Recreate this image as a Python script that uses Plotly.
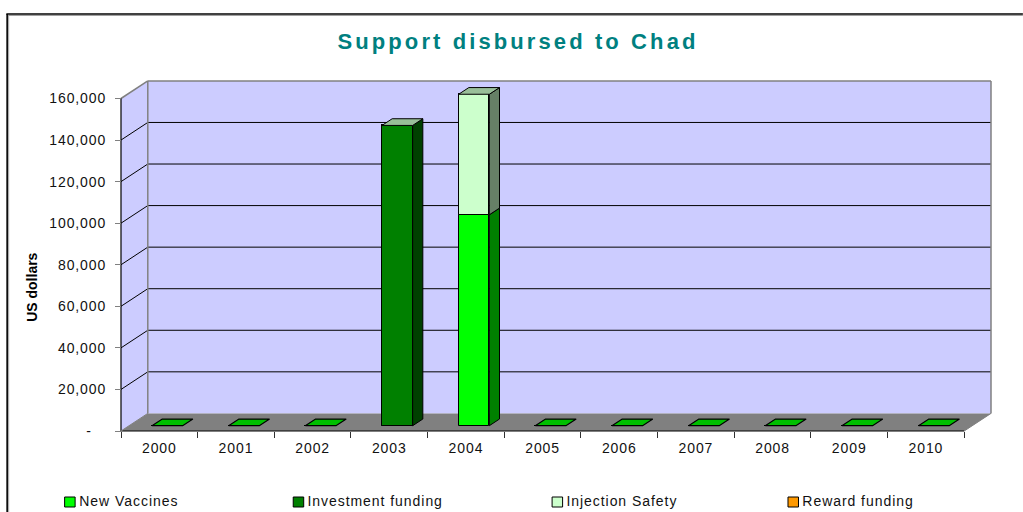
import plotly.graph_objects as go

TITLE = "Support disbursed to Chad"
YEARS = ["2000", "2001", "2002", "2003", "2004", "2005", "2006", "2007", "2008", "2009", "2010"]
NEW_VACCINES = [0, 0, 0, 0, 101500, 0, 0, 0, 0, 0, 0]
INVESTMENT = [0, 0, 0, 144500, 0, 0, 0, 0, 0, 0, 0]
INJECTION = [0, 0, 0, 0, 58000, 0, 0, 0, 0, 0, 0]
REWARD = [0, 0, 0, 0, 0, 0, 0, 0, 0, 0, 0]
Y_TICKS = [0, 20000, 40000, 60000, 80000, 100000, 120000, 140000, 160000]
Y_LABELS = ["-\u00a0\u00a0\u00a0", "20,000", "40,000", "60,000", "80,000", "100,000", "120,000", "140,000", "160,000"]

SERIES = [
    ("New Vaccines", NEW_VACCINES, "#00FF00", "#008000", "#00BF00"),
    ("Investment funding", INVESTMENT, "#008000", "#004000", "#006000"),
    ("Injection Safety", INJECTION, "#CCFFCC", "#668066", "#99BF99"),
    ("Reward funding", REWARD, "#FF9900", "#804D00", "#BF7300"),
]

# pixel geometry of the oblique projection
W, H = 1023, 512
FX0, FX1, FY0 = 120.7, 964.3, 431.0   # front plane
DPX, DPY = 26.8, 17.6                 # depth
PPU_X = (FX1 - FX0) / len(YEARS)
PPU_Y = 332.5 / 160000
PAD = 3
L, R, T, B = FX0 - PAD, FX1 + DPX + PAD, 81 - PAD, FY0 + PAD
XR = [-PAD / PPU_X, (R - FX0) / PPU_X]
YR = [-PAD / PPU_Y, (FY0 - T) / PPU_Y]
DX, DY = DPX / PPU_X, DPY / PPU_Y
N = len(YEARS)
TOP = Y_TICKS[-1]
D0, D1 = 0.3, 0.68      # depth band of bars
BW = 0.4                # bar width
LEG_SPACING = 0.95      # legend letter spacing, px


def px(x):
    return (x - L) / (R - L)


def py(y):
    return (B - y) / (B - T)


def path(pts):
    return "M" + "L".join(f"{a},{b}" for a, b in pts) + "Z"


shapes = []


def poly(pts, fill, line=None, width=1):
    shapes.append(dict(type="path", path=path(pts), xref="x", yref="y", layer="below",
                       fillcolor=fill, line=dict(color=line or "rgba(0,0,0,0)", width=width)))


def seg(a, b, color, width=1):
    shapes.append(dict(type="line", x0=a[0], y0=a[1], x1=b[0], y1=b[1], xref="x", yref="y",
                       layer="below", line=dict(color=color, width=width)))


poly([(0, 0), (DX, DY), (DX, TOP + DY), (0, TOP)], "#CCCCFF")
poly([(DX, DY), (N + DX, DY), (N + DX, TOP + DY), (DX, TOP + DY)], "#CCCCFF")
poly([(0, 0), (N, 0), (N + DX, DY), (DX, DY)], "#808080")
for v in Y_TICKS[1:-1]:
    seg((0, v), (DX, v + DY), "#000000")
    seg((DX, v + DY), (N + DX, v + DY), "#000000")
seg((0, TOP), (DX, TOP + DY), "#808080", 1.5)
seg((DX, TOP + DY), (N + DX, TOP + DY), "#808080", 1.5)
seg((DX, DY), (DX, TOP + DY), "#808080", 1.5)
seg((N + DX, DY), (N + DX, TOP + DY), "#808080", 1.5)
seg((0, 0), (0, TOP), "#000000", 1.2)
seg((0, 0), (N, 0), "#000000", 1.2)
seg((0, 0), (DX, DY), "#808080")
seg((N, 0), (N + DX, DY), "#808080")

fig = go.Figure()

# real bars, placed on the depth-shifted front plane of the bar band
stack = [0] * N
for name, vals, c_front, c_side, c_top in SERIES:
    fig.add_trace(go.Bar(
        x=[i + 0.5 + D0 * DX for i in range(N)],
        y=vals,
        base=[s + D0 * DY for s in stack],
        width=BW,
        name=name,
        marker=dict(color=c_front, line=dict(color="#000000", width=1)),
        cliponaxis=False,
        showlegend=False,
    ))
    # side faces
    for i, v in enumerate(vals):
        if v > 0:
            x1 = i + 0.5 + BW / 2 + D0 * DX
            b = stack[i] + D0 * DY
            ddx, ddy = (D1 - D0) * DX, (D1 - D0) * DY
            fig.add_trace(go.Scatter(
                x=[x1, x1 + ddx, x1 + ddx, x1, x1],
                y=[b, b + ddy, b + v + ddy, b + v, b],
                mode="lines", fill="toself", fillcolor=c_side,
                line=dict(color="#000000", width=1), cliponaxis=False,
                showlegend=False, hoverinfo="skip"))
    stack = [s + v for s, v in zip(stack, vals)]

# top faces: visible cap of each stack
for i in range(N):
    x0 = i + 0.5 - BW / 2 + D0 * DX
    ddx, ddy = (D1 - D0) * DX, (D1 - D0) * DY
    b = stack[i] + D0 * DY
    color = "#00BF00" if stack[i] == 0 else "#99BF99"
    fig.add_trace(go.Scatter(
        x=[x0, x0 + BW, x0 + BW + ddx, x0 + ddx, x0],
        y=[b, b, b + ddy, b + ddy, b],
        mode="lines", fill="toself", fillcolor=color,
        line=dict(color="#000000", width=1.3 if stack[i] == 0 else 1), cliponaxis=False,
        showlegend=False, hoverinfo="skip"))

FONT = "Liberation Sans, Arial, sans-serif"
TEXT = "#111111"
annotations = [dict(
    text="US dollars", xref="paper", yref="paper", x=px(31), y=py(287.5), textangle=-90,
    xanchor="center", yanchor="middle", showarrow=False,
    font=dict(family=FONT, size=14, color="#000000", weight="bold"))]

LEG_X = [64.3, 293, 552, 788]
for lx, (name, _, c, _, _) in zip(LEG_X, SERIES):
    shapes.append(dict(type="rect", xref="paper", yref="paper",
                       x0=px(lx), x1=px(lx + 10.5), y0=py(507), y1=py(497),
                       fillcolor=c, line=dict(color="#000000", width=1)))
    annotations.append(dict(text=name, xref="paper", yref="paper",
                            x=px(lx + 12.5 + len(name) * LEG_SPACING / 2), y=py(500.5),
                            xanchor="left", yanchor="middle", showarrow=False,
                            font=dict(family=FONT, size=14, color=TEXT)))

# outer frame: black rule with a grey shadow on its inner side
for off, col, wid in [(1.5, "#A0A0A0", 1), (0, "#000000", 1.6)]:
    shapes.append(dict(type="line", xref="paper", yref="paper", x0=px(6 + off), x1=px(1023),
                       y0=py(14 + off), y1=py(14 + off), line=dict(color=col, width=wid)))
    shapes.append(dict(type="line", xref="paper", yref="paper", x0=px(6.8 + off), x1=px(6.8 + off),
                       y0=py(14 + off), y1=py(512), line=dict(color=col, width=wid)))

fig.update_layout(
    width=W, height=H,
    margin=dict(l=L, r=W - R, t=T, b=H - B, pad=0),
    paper_bgcolor="#FFFFFF", plot_bgcolor="rgba(0,0,0,0)",
    barmode="overlay", bargap=0,
    title=dict(text=TITLE, x=518 / W, xanchor="center", y=1 - 41.5 / H, yanchor="middle",
               font=dict(family=FONT, size=22, color="#008080", weight="bold")),
    shapes=shapes, annotations=annotations, showlegend=False,
    xaxis=dict(range=XR, anchor="free", position=PAD / (B - T), showgrid=False, zeroline=False,
               showline=False, tickmode="array",
               tickvals=[i + 0.5 for i in range(N)], ticktext=YEARS, ticks="", ticklen=0,
               ticklabelstandoff=7,
               tickfont=dict(family=FONT, size=14, color=TEXT),
               minor=dict(tickmode="array", tickvals=list(range(N + 1)), ticks="outside",
                          ticklen=6, tickcolor="#303030", tickwidth=1, showgrid=False)),
    yaxis=dict(range=YR, anchor="free", position=PAD / (R - L), showgrid=False, zeroline=False,
               showline=False, tickmode="array", tickvals=Y_TICKS, ticktext=Y_LABELS,
               ticks="outside", ticklen=6, tickcolor="#808080", tickwidth=1,
               ticklabelstandoff=6,
               tickfont=dict(family=FONT, size=14, color=TEXT)),
)

CSS = (
    "var s=document.createElement('style');"
    "s.textContent='html,body{margin:0;padding:0;overflow:hidden}"
    ".gtitle{letter-spacing:3.1px}"
    ".xtick text,.ytick text{letter-spacing:0.9px}"
    f".annotation-text{{letter-spacing:{LEG_SPACING}px}}"
    ".annotation[data-index=\"0\"] .annotation-text{letter-spacing:0}';"
    "document.head.appendChild(s);"
)
fig.write_html("out.html", post_script=CSS, config=dict(displayModeBar=False))
